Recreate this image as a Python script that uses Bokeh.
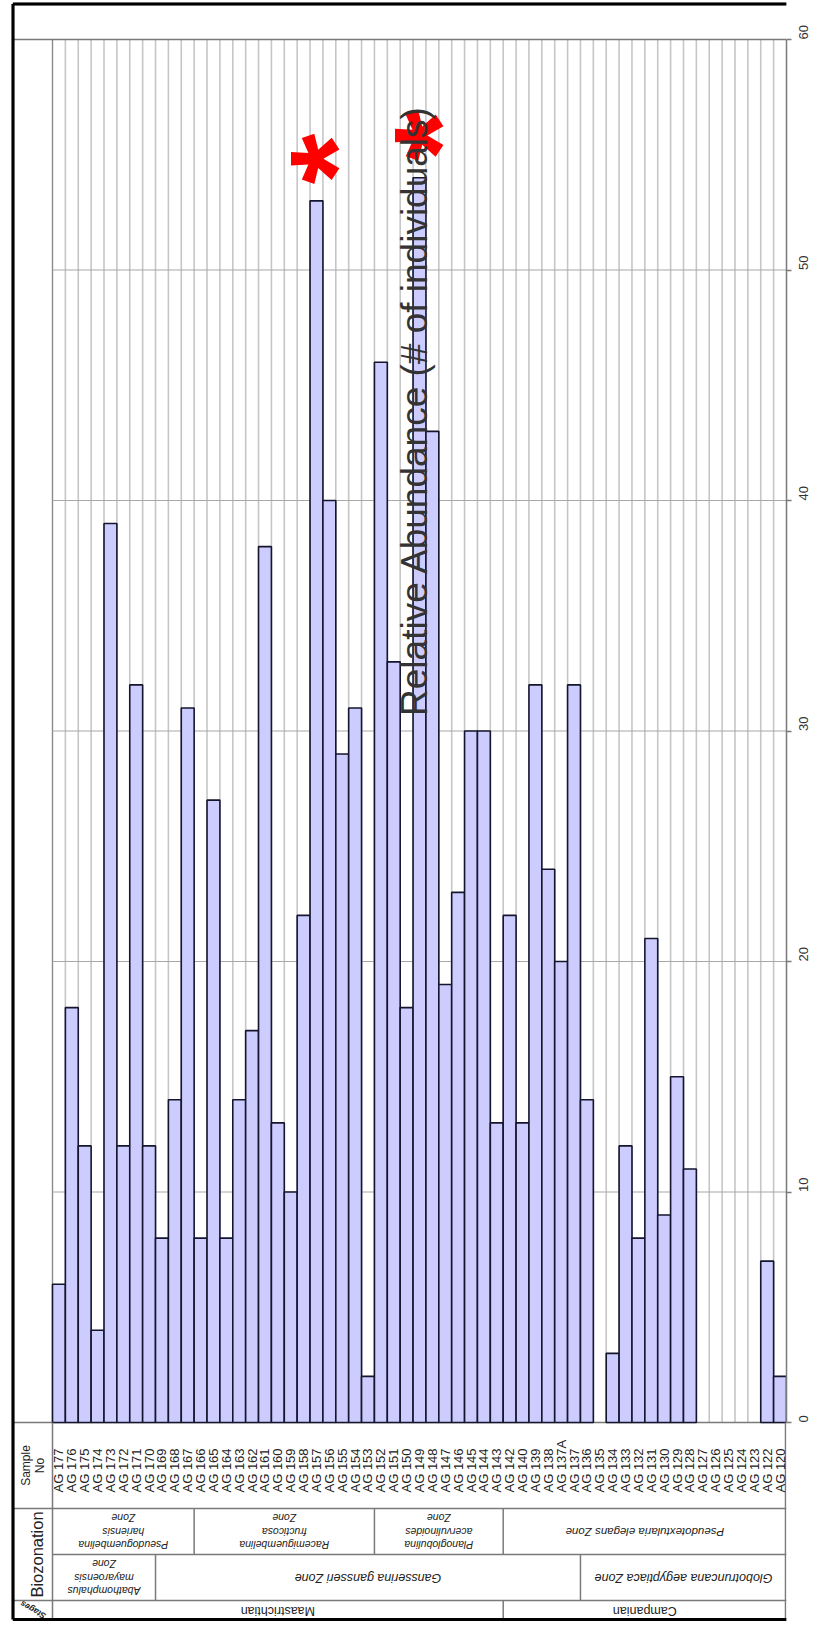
import math
import numpy as np
from bokeh.plotting import figure
from bokeh.models import Range1d, ColumnDataSource, CDSView, BooleanFilter, FixedTicker, BoxAnnotation
from bokeh.core.properties import value
from bokeh.embed import file_html
from bokeh.resources import INLINE

# ---------------- data ----------------
samples = ["AG 177", "AG 176", "AG 175", "AG 174", "AG 173", "AG 172", "AG 171", "AG 170",
           "AG 169", "AG 168", "AG 167", "AG 166", "AG 165", "AG 164", "AG 163", "AG 162",
           "AG 161", "AG 160", "AG 159", "AG 158", "AG 157", "AG 156", "AG 155", "AG 154",
           "AG 153", "AG 152", "AG 151", "AG 150", "AG 149", "AG 148", "AG 147", "AG 146",
           "AG 145", "AG 144", "AG 143", "AG 142", "AG 140", "AG 139", "AG 138", "AG 137A",
           "AG 137", "AG 136", "AG 135", "AG 134", "AG 133", "AG 132", "AG 131", "AG 130",
           "AG 129", "AG 128", "AG 127", "AG 126", "AG 125", "AG 124", "AG 123", "AG 122",
           "AG 120"]
abundance = [6, 18, 12, 4, 39, 12, 32, 12,
             8, 14, 31, 8, 27, 8, 14, 17,
             38, 13, 10, 22, 53, 40, 29, 31,
             2, 46, 33, 18, 54, 43, 19, 23,
             30, 30, 13, 22, 13, 32, 24, 20,
             32, 14, 0, 3, 12, 8, 21, 9,
             15, 11, 0, 0, 0, 0, 0, 7,
             2]
flagged = ["AG 157", "AG 149"]
y_ticks = [0, 10, 20, 30, 40, 50, 60]
grid_values = [10, 20, 30, 40, 50]
axis_title = "Relative Abundance (# of individuals)"

upper_zone_names = ["Pseudoguembelina\nhariensis\nZone", "Racemiguembelina\nfructicosa\nZone",
                    "Planoglobulina\nacervulinoides\nZone", "Pseudotextularia elegans Zone"]
upper_zone_first = ["AG 177", "AG 166", "AG 152", "AG 142"]
upper_zone_last = ["AG 167", "AG 153", "AG 143", "AG 120"]
lower_zone_names = ["Abathomphalus\nmayaroensis\nZone", "Gansserina gansseri Zone",
                    "Globotruncana aegyptiaca Zone"]
lower_zone_first = ["AG 177", "AG 169", "AG 136"]
lower_zone_last = ["AG 170", "AG 137", "AG 120"]
stage_names = ["Maastrichtian", "Campanian"]
stage_first = ["AG 177", "AG 142"]
stage_last = ["AG 143", "AG 120"]

# ---------------- layout (pixels) ----------------
W, H = 822, 1621
FRAME_W = 786            # x of the value axis
AX_W = W - FRAME_W
PLOT_LEFT = 52
PLOT_TOP = 39
PLOT_BOTTOM = 1422
HDR_LEFT = 13
ROWS = [1422, 1508, 1554, 1600, 1619]
YMAX = 60

n = len(samples)
pu = (FRAME_W - PLOT_LEFT) / n
vu = (PLOT_BOTTOM - PLOT_TOP) / YMAX

FONT = value("Liberation Sans")
GRID_C = "#c6c6c6"
LINE_C = "#7a7a7a"
TXT_C = "#222222"

p = figure(width=W, height=H, output_backend="svg", toolbar_location=None,
           x_range=Range1d(-PLOT_LEFT / pu, n),
           y_range=Range1d(-(H - PLOT_BOTTOM) / vu, YMAX + PLOT_TOP / vu),
           x_axis_location=None, y_axis_location="right",
           min_border_left=0, min_border_top=0, min_border_bottom=0, min_border_right=AX_W)
p.extra_x_ranges = {"px": Range1d(0, FRAME_W)}
p.extra_y_ranges = {"py": Range1d(H, 0)}
p.xgrid.visible = False
p.ygrid.visible = False
p.outline_line_color = None
p.background_fill_color = "white"
p.border_fill_color = "white"

# right value axis
ax = p.yaxis[0]
ax.ticker = FixedTicker(ticks=y_ticks)
ax.bounds = (0, YMAX)
ax.axis_line_color = LINE_C
ax.axis_line_width = 1.5
ax.major_tick_line_color = LINE_C
ax.major_tick_line_width = 1.5
ax.major_tick_out = 5
ax.major_tick_in = 0
ax.minor_tick_out = 0
ax.minor_tick_in = 0
ax.major_label_orientation = math.pi / 2
ax.major_label_standoff = 12
ax.major_label_text_font = "Liberation Sans"
ax.major_label_text_font_size = "13px"
ax.major_label_text_color = "#333333"

# grid lines (category boundaries + value grid)
xb = np.arange(1, n)
p.segment(x0=xb, x1=xb, y0=np.zeros(len(xb)), y1=np.full(len(xb), YMAX),
          line_color=GRID_C, line_width=1.6)
p.segment(x0=[0], x1=[0], y0=[0], y1=[YMAX], line_color="#8a8a8a", line_width=1.4)
gv = np.array(grid_values, dtype=float)
p.segment(x0=np.zeros(len(gv)), x1=np.full(len(gv), n), y0=gv, y1=gv,
          line_color="#a8a8a8", line_width=1.2)
p.segment(x0=[HDR_LEFT, HDR_LEFT], x1=[FRAME_W, FRAME_W], y0=[YMAX, 0], y1=[YMAX, 0],
          x_range_name="px", line_color=LINE_C, line_width=1.4)

# bars
src = ColumnDataSource(dict(x=np.arange(n) + 0.5, top=abundance, name=samples))
view = CDSView(filter=BooleanFilter([v > 0 for v in abundance]))
p.vbar(x="x", top="top", bottom=0, width=1.0, source=src, view=view,
       fill_color="#CCCCFF", line_color="#15152e", line_width=1.6)

# red asterisks on flagged samples
fi = [samples.index(s) for s in flagged]
p.text(x=[i + 0.5 for i in fi], y=[abundance[i] for i in fi], text=["*"] * len(fi),
       angle=math.pi / 2, text_align="center", text_baseline="middle",
       x_offset=20, y_offset=-42, text_color="#ff0000",
       text_font=FONT, text_font_style="bold", text_font_size="130px")

# axis title inside the plot
p.text(x=[414], y=[410], text=[axis_title], x_range_name="px", y_range_name="py",
       angle=math.pi / 2, text_align="center", text_baseline="middle",
       text_color="#333333", text_font=FONT, text_font_size="37px")

# ---------------- table below ----------------
p.segment(x0=[HDR_LEFT, PLOT_LEFT, HDR_LEFT], x1=[FRAME_W] * 3,
          y0=[ROWS[1], ROWS[2], ROWS[3]], y1=[ROWS[1], ROWS[2], ROWS[3]],
          x_range_name="px", y_range_name="py", line_color=LINE_C, line_width=1.5)
p.segment(x0=[PLOT_LEFT, FRAME_W - 1], x1=[PLOT_LEFT, FRAME_W - 1],
          y0=[ROWS[0]] * 2, y1=[ROWS[4]] * 2,
          x_range_name="px", y_range_name="py", line_color=LINE_C, line_width=1.5)

# sample labels
p.text(x=np.arange(n) + 0.5, y=[ROWS[1] - 16] * n, text=samples, y_range_name="py",
       angle=math.pi / 2, text_align="left", text_baseline="middle",
       text_color=TXT_C, text_font=FONT, text_font_size="13px")


def zone_row(names, firsts, lasts, y_top, y_bot, style, multi_size, single_size):
    i0 = [samples.index(f) for f in firsts]
    i1 = [samples.index(l) + 1 for l in lasts]
    b = i0[1:]
    if b:
        p.segment(x0=b, x1=b, y0=[y_top] * len(b), y1=[y_bot] * len(b), y_range_name="py",
                  line_color=LINE_C, line_width=1.5)
    sizes = [multi_size if "\n" in t else single_size for t in names]
    p.text(x=[(a + c) / 2 for a, c in zip(i0, i1)], y=[(y_top + y_bot) / 2] * len(names),
           text=names, y_range_name="py", angle=math.pi, text_align="center",
           text_baseline="middle", text_color=TXT_C, text_font=FONT,
           text_font_size=sizes, text_font_style=style, text_line_height=1.1)


zone_row(upper_zone_names, upper_zone_first, upper_zone_last, ROWS[1], ROWS[2], "italic",
         "10.5px", "11.5px")
zone_row(lower_zone_names, lower_zone_first, lower_zone_last, ROWS[2], ROWS[3], "italic",
         "10.5px", "12.5px")
zone_row(stage_names, stage_first, stage_last, ROWS[3], ROWS[4] + 2, "normal",
         "12.5px", "12.5px")

# header column
hx = (HDR_LEFT + PLOT_LEFT) / 2
p.text(x=[hx], y=[(ROWS[0] + ROWS[1]) / 2], text=["Sample\nNo"], x_range_name="px",
       y_range_name="py", angle=math.pi / 2, text_align="center", text_baseline="middle",
       text_color=TXT_C, text_font=FONT, text_font_size="12px", text_line_height=1.0)
p.text(x=[hx + 4], y=[(ROWS[1] + ROWS[3]) / 2], text=["Biozonation"], x_range_name="px",
       y_range_name="py", angle=math.pi / 2, text_align="center", text_baseline="middle",
       text_color=TXT_C, text_font=FONT, text_font_size="16.5px")
p.text(x=[hx], y=[(ROWS[3] + ROWS[4]) / 2], text=["Stages"], x_range_name="px",
       y_range_name="py", angle=5 * math.pi / 6, text_align="center", text_baseline="middle",
       text_color=TXT_C, text_font=FONT, text_font_size="8.5px", text_font_style="bold italic")

# outer border of the whole chart (left/top/bottom inside the frame, box for the rest)
p.segment(x0=[12.5, 12.5, 12.5], x1=[12.5, FRAME_W, FRAME_W], y0=[3.5, 3.5, H - 2],
          y1=[H - 2, 3.5, H - 2], x_range_name="px", y_range_name="py",
          line_color="black", line_width=3)
try:
    border = BoxAnnotation(left=12.5, right=W - 1.5, top=3.5, bottom=H - 2,
                           left_units="canvas", right_units="canvas",
                           top_units="canvas", bottom_units="canvas",
                           fill_alpha=0, line_color="black", line_width=3)
    p.add_layout(border)
except Exception:
    pass

open("out.html", "w").write(file_html(p, INLINE))
